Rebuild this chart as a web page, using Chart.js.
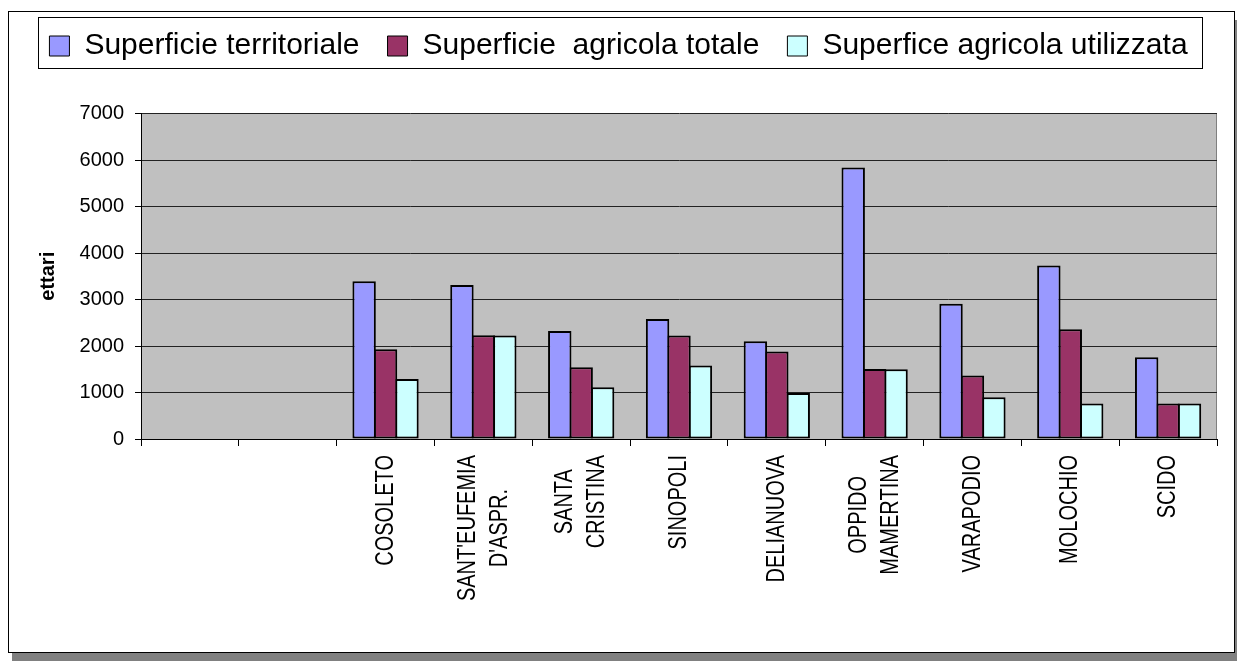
<!DOCTYPE html>
<html lang="it">
<head>
<meta charset="UTF-8">
<title>Superficie territoriale e agricola</title>
<script src="https://cdn.jsdelivr.net/npm/chart.js"></script>
<style>
  html, body { margin: 0; padding: 0; background: #fff; overflow: hidden; }
  #frame {
    position: absolute; left: 8px; top: 11px; width: 1227px; height: 642px;
    box-sizing: border-box; border: 1px solid #000; background: #fff;
    box-shadow: 4px 9px 0 #808080;
  }
  #wrap { position: absolute; left: 0; top: 0; width: 1237px; height: 661px; }
</style>
</head>
<body>
<div id="frame"></div>
<div id="wrap"><canvas id="superficieChart"></canvas></div>

<script>
  // categorie (le prime due sono vuote, come nel foglio originale)
  const comuni = ['', '', 'COSOLETO', ["SANT'EUFEMIA", "D'ASPR."], ['SANTA', 'CRISTINA'], 'SINOPOLI',
    'DELIANUOVA', ['OPPIDO', 'MAMERTINA'], 'VARAPODIO', 'MOLOCHIO', 'SCIDO'];

  const superficieTerritoriale = [null, null, 3390, 3310, 2320, 2580, 2100, 5840, 2910, 3730, 1760];
  const superficieAgricolaTotale = [null, null, 1930, 2230, 1545, 2225, 1880, 1505, 1365, 2360, 765];
  const superficieAgricolaUtilizzata = [null, null, 1290, 2225, 1115, 1580, 990, 1500, 900, 765, 765];

  const yMax = 7000;
  const yStep = 1000;

  const FONT = '"Liberation Sans", Arial, sans-serif';
  Chart.defaults.font.family = FONT;
  Chart.defaults.color = '#000';

  // grey plot background + right edge
  const plotArea = {
    id: 'plotArea',
    beforeDraw(chart) {
      const { ctx, chartArea: a } = chart;
      ctx.save();
      ctx.fillStyle = '#C0C0C0';
      ctx.fillRect(a.left, a.top, a.right - a.left, a.bottom - a.top);
      ctx.strokeStyle = '#808080';
      ctx.lineWidth = 1;
      ctx.beginPath();
      ctx.moveTo(Math.round(a.right) - 0.5, a.top);
      ctx.lineTo(Math.round(a.right) - 0.5, a.bottom);
      ctx.stroke();
      ctx.restore();
    }
  };

  // box around the legend
  const legendFrame = {
    id: 'legendFrame',
    afterDraw(chart) {
      const boxes = chart.legend && chart.legend.legendHitBoxes;
      if (!boxes || !boxes.length) return;
      const first = boxes[0], last = boxes[boxes.length - 1];
      const x0 = Math.round(first.left - 11);
      const x1 = Math.round(last.left + last.width + 14);
      const y0 = Math.round(first.top - 14);
      const ctx = chart.ctx;
      ctx.save();
      ctx.strokeStyle = '#000';
      ctx.lineWidth = 1;
      ctx.strokeRect(x0 + 0.5, y0 + 0.5, x1 - x0, 51);
      ctx.restore();
    }
  };

  // vertical category labels, lines centred on each other
  const xLabels = {
    id: 'xLabels',
    afterDraw(chart) {
      const ctx = chart.ctx;
      const xs = chart.scales.x;
      const top = chart.chartArea.bottom + 16;
      ctx.save();
      ctx.font = '20px ' + FONT;
      ctx.fillStyle = '#000';
      ctx.textAlign = 'center';
      ctx.textBaseline = 'middle';
      comuni.forEach((lab, i) => {
        const lines = Array.isArray(lab) ? lab : [lab];
        if (!lines[0]) return;
        const w = Math.max(...lines.map(l => ctx.measureText(l).width));
        const cx = xs.getPixelForTick(i);
        lines.forEach((line, j) => {
          ctx.save();
          ctx.translate(cx + (j - (lines.length - 1) / 2) * 32, top + w / 2);
          ctx.rotate(-Math.PI / 2);
          ctx.scale(1, 1.3);
          ctx.fillText(line, 0, 0);
          ctx.restore();
        });
      });
      ctx.restore();
    }
  };

  const barStyle = { borderColor: '#000', borderWidth: 2, borderSkipped: false,
    categoryPercentage: 0.657, barPercentage: 1.093 };

  new Chart(document.getElementById('superficieChart'), {
    type: 'bar',
    data: {
      labels: comuni,
      datasets: [
        { label: 'Superficie territoriale', data: superficieTerritoriale, backgroundColor: '#9999FF', ...barStyle },
        { label: 'Superficie  agricola totale', data: superficieAgricolaTotale, backgroundColor: '#993366', ...barStyle },
        { label: 'Superfice agricola utilizzata', data: superficieAgricolaUtilizzata, backgroundColor: '#CCFFFF', ...barStyle }
      ]
    },
    options: {
      responsive: true,
      maintainAspectRatio: false,
      animation: false,
      layout: { padding: { left: 20, right: 20, top: 3, bottom: 0 } },
      plugins: {
        legend: {
          position: 'top',
          weight: 3000,
          labels: {
            font: { size: 30 },
            color: '#000',
            boxWidth: 20,
            boxHeight: 20,
            padding: 28,
            generateLabels: chart =>
              Chart.defaults.plugins.legend.labels.generateLabels(chart).map(l => ({ ...l, lineWidth: 1 }))
          }
        },
        title: { display: true, text: '', font: { size: 10, lineHeight: 1.25 }, padding: { top: 0, bottom: 30 } },
        tooltip: { enabled: false }
      },
      scales: {
        x: {
          ticks: { display: false },
          grid: { offset: true, drawOnChartArea: false, drawTicks: true, tickLength: 7, color: '#000' },
          border: { color: '#000', width: 1 },
          afterFit: s => { s.height = 222; }
        },
        y: {
          min: 0,
          max: yMax,
          ticks: { stepSize: yStep, font: { size: 20 }, color: '#000', padding: 11, callback: v => String(v) },
          grid: { color: '#222', tickLength: 6, tickColor: '#000' },
          border: { color: '#000', width: 1 },
          title: {
            display: true,
            text: 'ettari',
            color: '#000',
            font: { size: 20, weight: 'bold' },
            padding: { top: 16, bottom: 0 }
          },
          afterFit: s => { s.width = 121; }
        }
      }
    },
    plugins: [plotArea, legendFrame, xLabels]
  });
</script>
</body>
</html>
